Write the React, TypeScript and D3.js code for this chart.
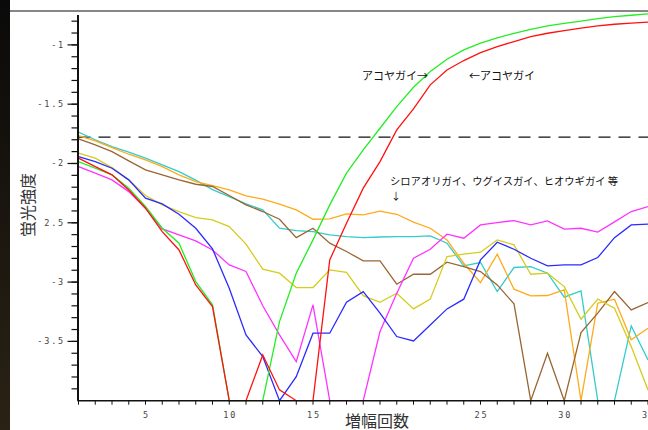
import * as d3 from 'd3';

// amplification cycles (x) and fluorescence values per sample (log scale, clipped at -4)
const cycles = [1, 2, 3, 4, 5, 6, 7, 8, 9, 10, 11, 12, 13, 14, 15, 16, 17, 18, 19, 20, 21, 22, 23, 24, 25, 26, 27, 28, 29, 30, 31, 32, 33, 34, 35];

const green = [-1.984, -2.04, -2.096, -2.209, -2.363, -2.546, -2.672, -2.996, -3.192, -4, -4, -4, -3.333, -2.925, -2.644, -2.349, -2.082, -1.885, -1.703, -1.52, -1.357, -1.225, -1.121, -1.042, -0.986, -0.94, -0.902, -0.869, -0.84, -0.818, -0.799, -0.778, -0.761, -0.75, -0.739];
const red = [-1.955, -2.026, -2.096, -2.223, -2.377, -2.574, -2.729, -3.024, -3.207, -4, -4, -3.614, -3.909, -4, -4, -2.813, -2.503, -2.208, -1.984, -1.717, -1.54, -1.337, -1.211, -1.132, -1.065, -1.014, -0.972, -0.93, -0.902, -0.879, -0.859, -0.84, -0.826, -0.817, -0.808];
const blue = [-1.942, -1.984, -2.04, -2.138, -2.293, -2.341, -2.428, -2.546, -2.72, -3.052, -3.445, -3.628, -4, -3.797, -3.431, -3.431, -3.17, -3.08, -3.262, -3.459, -3.496, -3.361, -3.226, -3.144, -2.813, -2.664, -2.723, -2.799, -2.863, -2.855, -2.855, -2.793, -2.625, -2.518, -2.512];
const magenta = [-2.026, -2.082, -2.138, -2.237, -2.377, -2.551, -2.602, -2.653, -2.729, -2.855, -2.91, -3.2, -3.445, -3.67, -3.192, -4, -4, -4, -3.417, -3.094, -2.799, -2.723, -2.596, -2.63, -2.518, -2.498, -2.481, -2.518, -2.484, -2.554, -2.546, -2.579, -2.492, -2.405, -2.363];
const yellow = [-1.913, -1.955, -2.035, -2.138, -2.27, -2.349, -2.405, -2.456, -2.476, -2.532, -2.68, -2.891, -2.925, -3.046, -3.046, -2.897, -2.917, -3.114, -3.17, -3.094, -3.226, -3.144, -2.785, -2.765, -2.748, -2.644, -2.686, -2.934, -2.925, -3.038, -3.313, -3.144, -3.22, -3.544, -3.909];
const orange = [-1.765, -1.809, -1.866, -1.922, -1.97, -2.026, -2.096, -2.152, -2.186, -2.223, -2.273, -2.301, -2.343, -2.391, -2.47, -2.467, -2.425, -2.433, -2.402, -2.428, -2.495, -2.546, -2.644, -2.841, -3.004, -2.765, -3.06, -3.116, -3.113, -3.066, -4, -3.178, -3.144, -3.487, -3.389];
const cyan = [-1.736, -1.8, -1.857, -1.905, -1.955, -2.012, -2.068, -2.14, -2.22, -2.279, -2.34, -2.391, -2.546, -2.566, -2.574, -2.602, -2.616, -2.625, -2.62, -2.616, -2.616, -2.61, -2.672, -2.863, -2.835, -3.08, -2.877, -2.869, -2.925, -3.127, -3.074, -4, -4, -3.369, -3.656];
const brown = [-1.793, -1.843, -1.9, -1.978, -2.054, -2.096, -2.138, -2.175, -2.194, -2.27, -2.349, -2.405, -2.47, -2.625, -2.546, -2.672, -2.742, -2.821, -2.821, -3.018, -2.934, -2.934, -2.832, -2.869, -2.911, -3.024, -3.184, -4, -3.6, -4, -3.426, -3.262, -3.08, -3.234, -3.173];

const threshold = -1.778;

// "20" sits under the axis title in the original, so it isn't shown
const xTickLabels = [5, 10, 15, 25, 30, 35];
const yMajorTicks = [-1, -1.5, -2, -2.5, -3, -3.5];
const yTickLabels = ['-1', '-1.5', '-2', '2.5', '-3', '-3.5'];

const series = [
  { name: 'cyan', values: cyan, color: '#33cccc' },
  { name: 'orange', values: orange, color: '#ffaa1a' },
  { name: 'brown', values: brown, color: '#996633' },
  { name: 'yellow', values: yellow, color: '#d6cc1e' },
  { name: 'magenta', values: magenta, color: '#ff33ff' },
  { name: 'blue', values: blue, color: '#2b2bff' },
  { name: 'green', values: green, color: '#22ee22' },
  { name: 'red', values: red, color: '#ff1111' },
];

const W = 648;
const H = 430;
const left = 78.5;
const bottom = 400.7;

export default function App() {
  const x = d3.scaleLinear().domain([1, 35]).range([left, left + 34 * 16.75]);
  const y = d3.scaleLinear().domain([-4, -0.7]).range([bottom, 9.3]);

  const line = d3
    .line<number>()
    .x((_, i) => x(cycles[i]))
    .y((d) => y(d));

  const minorY = d3.range(-39, -7).map((v) => v / 10);
  const tickFont = '"DejaVu Sans Mono", monospace';
  const jp = '"Noto Sans CJK JP", "Noto Sans", sans-serif';

  return (
    <div>
      <style>{'body{margin:0;background:#fff}'}</style>
      <svg width={W} height={H} style={{ display: 'block' }}>
        <defs>
          <linearGradient id="bar" x1="0" y1="0" x2="0" y2="1">
            <stop offset="0" stopColor="#0a0a0a" />
            <stop offset="1" stopColor="#2a2214" />
          </linearGradient>
          <clipPath id="plot">
            <rect x={left} y={11} width={W - left} height={bottom - 11 + 1} />
          </clipPath>
        </defs>

        <rect x={0} y={0} width={W} height={H} fill="#fff" />
        <rect x={0} y={0} width={10} height={H} fill="url(#bar)" />
        <line x1={10} x2={W} y1={11} y2={11} stroke="#111" strokeWidth={1.2} />

        {/* threshold */}
        <line
          x1={left}
          x2={W}
          y1={y(threshold)}
          y2={y(threshold)}
          stroke="#111"
          strokeWidth={1.3}
          strokeDasharray="12,8"
        />

        <g clipPath="url(#plot)">
          {series.map((s) => (
            <path key={s.name} d={line(s.values) ?? ''} fill="none" stroke={s.color} strokeWidth={1.3} />
          ))}
        </g>

        {/* y axis */}
        <line x1={left - 0.5} x2={left - 0.5} y1={15} y2={bottom} stroke="#111" strokeWidth={2} />
        {minorY.map((v) => (
          <line key={v} x1={left - 7} x2={left} y1={y(v)} y2={y(v)} stroke="#111" strokeWidth={1.2} />
        ))}
        {yMajorTicks.map((v, i) => (
          <g key={v}>
            <line x1={left - 11} x2={left} y1={y(v)} y2={y(v)} stroke="#111" strokeWidth={1.2} />
            <text
              x={65}
              y={y(v) + 3}
              textAnchor="end"
              fontFamily={tickFont}
              fontSize={8.5}
              letterSpacing={1.8}
              fill="#444"
            >
              {yTickLabels[i]}
            </text>
          </g>
        ))}

        {/* x axis */}
        <line x1={left - 1} x2={W} y1={bottom} y2={bottom} stroke="#111" strokeWidth={1.5} />
        {cycles.map((c) => (
          <line key={c} x1={x(c)} x2={x(c)} y1={bottom} y2={bottom + 4} stroke="#111" strokeWidth={1} />
        ))}
        {xTickLabels.map((c) => (
          <text
            key={c}
            x={x(c) + 1}
            y={418}
            textAnchor="middle"
            fontFamily={tickFont}
            fontSize={8.5}
            letterSpacing={1.8}
            fill="#444"
          >
            {c}
          </text>
        ))}

        {/* axis titles */}
        <text x={377} y={427} textAnchor="middle" fontFamily={jp} fontSize={16} fill="#333">
          増幅回数
        </text>
        <text
          transform="translate(34,205) rotate(-90)"
          textAnchor="middle"
          fontFamily={jp}
          fontSize={16}
          fill="#333"
        >
          蛍光強度
        </text>

        {/* annotations */}
        <text x={362} y={80} fontFamily={jp} fontSize={11} fill="#111">
          アコヤガイ→
        </text>
        <text x={469} y={80} fontFamily={jp} fontSize={11} fill="#111">
          ←アコヤガイ
        </text>
        <text x={390} y={185} fontFamily={jp} fontSize={10.3} fill="#111">
          シロアオリガイ、ウグイスガイ、ヒオウギガイ 等
        </text>
        <text x={391} y={200} fontFamily={jp} fontSize={10} fill="#111">
          ↓
        </text>
      </svg>
    </div>
  );
}
